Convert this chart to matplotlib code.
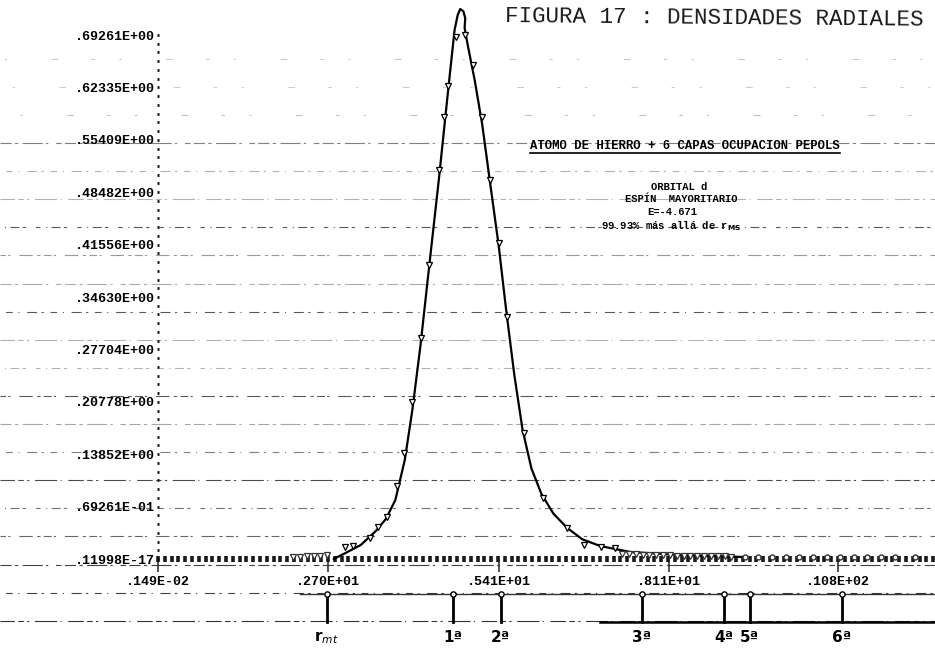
import numpy as np
import matplotlib
matplotlib.use("Agg")
import matplotlib.pyplot as plt
import matplotlib.transforms as mtransforms
from matplotlib.ticker import FixedLocator

# ---- radial density of the d orbital (printed sample symbols) ----
point_r = [2.97, 3.09, 3.36, 3.49, 3.63, 3.79, 3.90, 4.04, 4.17, 4.31, 4.46, 4.54, 4.60,
           4.74, 4.88, 5.00, 5.15, 5.27, 5.41, 5.55, 5.82, 6.11, 6.50, 6.77, 7.03, 7.26]
point_d = [0.0159, 0.0172, 0.0278, 0.0423, 0.0555, 0.0965, 0.1401, 0.2075, 0.2921, 0.3886,
           0.5141, 0.5842, 0.6252, 0.6900, 0.69261, 0.6529, 0.5842, 0.5009, 0.4177, 0.3198,
           0.1665, 0.0806, 0.0410, 0.0185, 0.0159, 0.0145]

# ---- hand-traced curve through the samples ----
curve_r = [2.79, 2.98, 3.22, 3.46, 3.62, 3.77, 3.92, 4.04, 4.17, 4.31, 4.46, 4.60, 4.71,
           4.76, 4.80, 4.85, 4.88, 4.87, 4.92, 5.03, 5.15, 5.28, 5.41, 5.53, 5.66, 5.79,
           5.93, 6.09, 6.28, 6.50, 6.74, 7.03, 7.50, 8.29, 9.32]
curve_d = [0.000, 0.008, 0.0185, 0.037, 0.053, 0.078, 0.131, 0.197, 0.283, 0.389, 0.501,
           0.613, 0.699, 0.719, 0.727, 0.724, 0.715, 0.702, 0.679, 0.633, 0.574, 0.494,
           0.415, 0.329, 0.243, 0.171, 0.120, 0.086, 0.060, 0.041, 0.026, 0.017, 0.0093,
           0.0053, 0.0026]

# ---- near-zero tail samples overprinted on the axis row ----
tail_left_r = [2.14, 2.25, 2.36, 2.47, 2.58, 2.68]
tail_left_d = [0.0030, 0.0032, 0.0035, 0.0038, 0.0042, 0.0048]
tail_right_r = [7.37, 7.48, 7.59, 7.70, 7.80, 7.91, 8.02, 8.13, 8.24, 8.35, 8.45, 8.56,
                8.67, 8.78, 8.89, 9.00, 9.10]
tail_right_d = [0.0070, 0.0065, 0.0060, 0.0058, 0.0055, 0.0050, 0.0050, 0.0048, 0.0045,
                0.0045, 0.0043, 0.0040, 0.0040, 0.0038, 0.0036, 0.0035, 0.0033]
tail_far_r = [9.32, 9.53, 9.75, 9.97, 10.18, 10.40, 10.62, 10.83, 11.05, 11.26, 11.48,
              11.70, 12.02]
tail_far_d = [0.0030, 0.0030, 0.0028, 0.0028, 0.0027, 0.0026, 0.0026, 0.0025, 0.0025,
              0.0024, 0.0024, 0.0023, 0.0022]

# ---- axes labelling ----
y_ticks = [0.0, 0.069261, 0.138522, 0.207783, 0.277044, 0.346305, 0.415566,
           0.484827, 0.554088, 0.623349, 0.69261]
y_labels = [".11998E-17", ".69261E-01", ".13852E+00", ".20778E+00", ".27704E+00",
            ".34630E+00", ".41556E+00", ".48482E+00", ".55409E+00", ".62335E+00",
            ".69261E+00"]
x_ticks = [0.00149, 2.70, 5.41, 8.11, 10.8]
x_labels = [".149E-02", ".270E+01", ".541E+01", ".811E+01", ".108E+02"]

# ---- shell radii marked under the plot ----
shell_r = [2.68, 4.69, 5.44, 7.68, 8.99, 9.40, 10.86]
shell_labels = [r"r$_{mt}$", "1ª", "2ª", "3ª", "4ª", "5ª", "6ª"]

W, H = 935, 649
fig = plt.figure(figsize=(W / 100, H / 100), dpi=100)
fig.patch.set_facecolor("white")

# background layer in page pixels (ruled paper lines and notes)
bg = fig.add_axes([0, 0, 1, 1], zorder=0)
bg.set_xlim(0, W)
bg.set_ylim(H, 0)
bg.axis("off")

rule_first, rule_step, rule_count = 143.0, 28.1, 18
rule_alpha = [0.50, 0.30, 0.30, 0.65, 0.40, 0.32, 0.65, 0.30, 0.30, 0.65, 0.35, 0.50,
              0.70, 0.55, 0.60, 0.75, 0.75, 0.80]
dash_styles = [
    (0, (10, 3, 3, 4, 18, 3, 2, 7, 5, 3)),
    (3, (2, 6, 6, 5, 1, 7, 9, 4)),
    (1, (14, 3, 5, 3, 2, 5, 20, 3, 1, 6)),
    (5, (4, 5, 1, 4, 8, 3, 3, 9)),
    (2, (7, 2, 2, 8, 12, 4, 3, 3)),
]
for k in range(rule_count):
    yk = rule_first + k * rule_step
    bg.plot([0, W], [yk, yk], color="black", lw=0.8, alpha=rule_alpha[k],
            linestyle=dash_styles[k % len(dash_styles)], zorder=0)
# faint remnants of the upper rules
for k, a in zip(range(1, 4), [0.25, 0.2, 0.22]):
    yk = rule_first - k * rule_step
    bg.plot([0, W], [yk, yk], color="black", lw=0.8, alpha=a,
            linestyle=(k * 7, (3, 22, 2, 40, 6, 30)), zorder=0)

# plotting area: r from the first column to the page edge, density 0..max
ax_left, ax_bottom_px, ax_top_px = 158, 559, 35
ax = fig.add_axes([ax_left / W, 1 - ax_bottom_px / H, (W - ax_left) / W,
                   (ax_bottom_px - ax_top_px) / H], zorder=2)
ax.patch.set_alpha(0)
px_per_unit = 62.96
ax.set_xlim(0, (W - ax_left) / px_per_unit)
ax.set_ylim(0, 0.69261)
for s in ax.spines.values():
    s.set_visible(False)

mono = "Liberation Mono"

# y axis: printed column of dots with value labels
ax.yaxis.set_major_locator(FixedLocator(y_ticks))
ax.set_yticklabels(y_labels, fontfamily=mono, fontweight="bold", fontsize=9.6)
ax.yaxis.set_minor_locator(FixedLocator(np.linspace(0, 0.69261, 61)))
ax.tick_params(axis="y", which="both", direction="inout", length=2.0, width=2.0,
               color="#111111", pad=1.5)

# x axis: row of printed glyphs, labelled columns below
ax.xaxis.set_major_locator(FixedLocator(x_ticks))
ax.set_xticklabels(x_labels, fontfamily=mono, fontweight="bold", fontsize=9.6)
ax.xaxis.set_minor_locator(FixedLocator(np.arange(0, 12.4, 0.108)))
ax.xaxis.remove_overlapping_locs = False
ax.tick_params(axis="x", which="minor", direction="inout", length=4.8, width=2.6,
               color="#1a1a1a")
ax.tick_params(axis="x", which="major", direction="out", length=9, width=1.1,
               color="#222222", pad=3)
for t in ax.get_xticklabels():
    t.set_horizontalalignment("center")

# density curve and sample symbols
ax.plot(curve_r, curve_d, color="black", lw=1.6, solid_joinstyle="round",
        solid_capstyle="round", clip_on=False, zorder=3)
ax.plot(point_r, point_d, linestyle="none", marker="v", ms=4.2, mfc="white",
        mec="black", mew=0.9, clip_on=False, zorder=4)
ax.plot(tail_left_r, tail_left_d, linestyle="none", marker="v", ms=4.5, mfc="white",
        mec="#333333", mew=0.9, clip_on=False, zorder=4)
ax.plot(tail_right_r, tail_right_d, linestyle="none", marker="v", ms=4.5, mfc="white",
        mec="#333333", mew=0.9, clip_on=False, zorder=4)
ax.plot(tail_far_r, tail_far_d, linestyle="none", marker="o", ms=3.6, mfc="white",
        mec="#333333", mew=1.0, clip_on=False, zorder=4)

# shell radii: x in data units, y in page pixels
trans = mtransforms.blended_transform_factory(ax.transData, bg.transData)
shell_top, shell_bottom, shell_text_y = 594, 622, 638
bg.plot([300, W], [shell_top, shell_top], color="black", lw=1.0, alpha=0.8, zorder=1)
bg.plot([600, W], [shell_bottom, shell_bottom], color="black", lw=1.8, zorder=1)
for r, lab in zip(shell_r, shell_labels):
    ax.plot([r, r], [shell_top, shell_bottom], color="black", lw=2.0,
            transform=trans, clip_on=False, zorder=3)
    ax.text(r, shell_text_y, lab, transform=trans, ha="center", va="center",
            fontsize=11, fontweight="bold", family="DejaVu Sans", clip_on=False)
ax.plot(shell_r, [shell_top] * len(shell_r), linestyle="none", marker="o", ms=3.8,
        mfc="white", mec="black", mew=1.0, transform=trans, clip_on=False, zorder=4)

# figure caption, typed
bg.text(505, 17, "FIGURA 17 : DENSIDADES RADIALES", fontfamily=mono, fontsize=16.2,
        ha="left", va="center", rotation=-0.5, rotation_mode="anchor", color="#1a1a1a")

# printed notes
header = bg.text(530, 146, "ATOMO DE HIERRO + 6 CAPAS OCUPACION PEPOLS", fontfamily=mono,
                 fontweight="bold", fontsize=8.8, ha="left", va="center")
note_kw = dict(fontfamily=mono, fontweight="bold", fontsize=7.6, va="center")
bg.text(679, 187, "ORBITAL d", ha="center", **note_kw)
bg.text(681, 199.5, "ESPÍN  MAYORITARIO", ha="center", **note_kw)
bg.text(672, 212, "E=-4.671", ha="center", **note_kw)
bg.text(671, 226, r"99.93% más allá de r$_{\mathbf{MS}}$", ha="center", **note_kw)

fig.canvas.draw()
bb = header.get_window_extent()
inv = bg.transData.inverted()
(ux0, uy), (ux1, _) = inv.transform([(bb.x0, bb.y0), (bb.x1, bb.y0)])
bg.plot([ux0, ux1], [uy + 1.0, uy + 1.0], color="black", lw=1.2, zorder=1)

fig.savefig("out.png", dpi=100, facecolor="white")
